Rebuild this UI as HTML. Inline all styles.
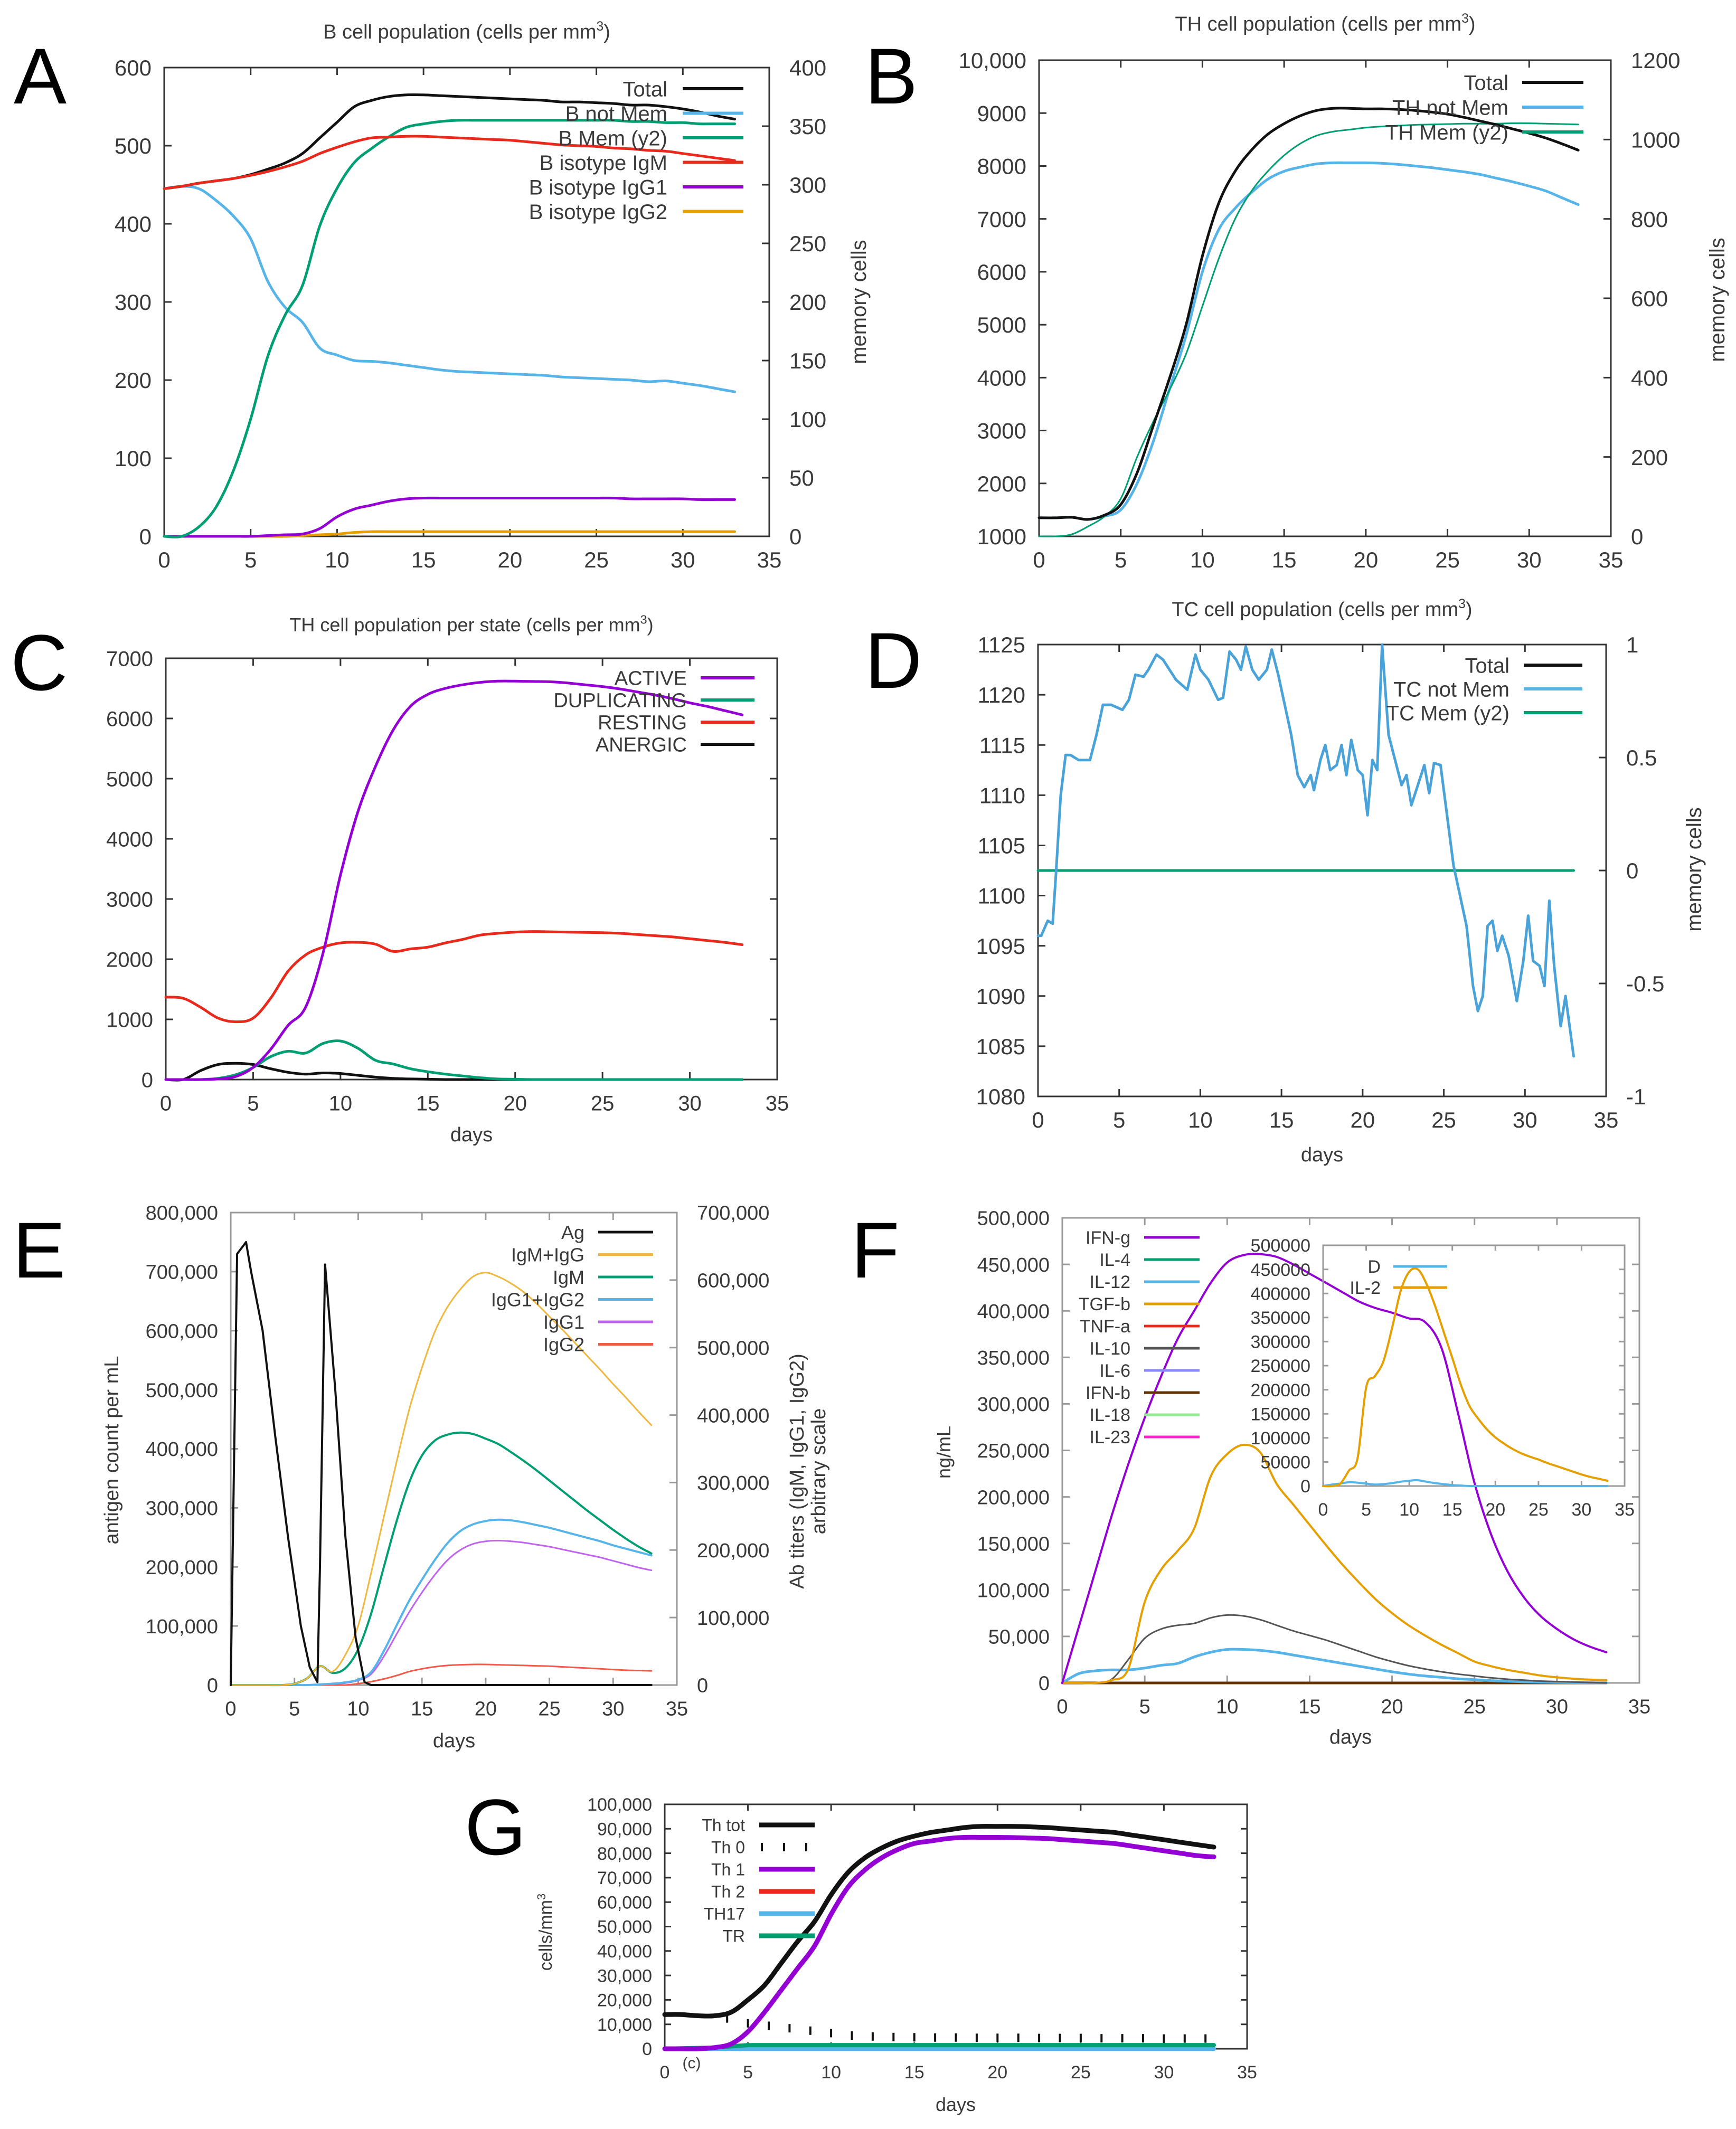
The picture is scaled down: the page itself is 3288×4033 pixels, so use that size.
<!DOCTYPE html>
<html><head><meta charset="utf-8"><title>Immune simulation panels</title>
<style>
html,body{margin:0;padding:0;background:#fff;}
svg{display:block;font-family:"Liberation Sans",Arial,sans-serif;}
</style></head>
<body>
<svg id="fig" xmlns="http://www.w3.org/2000/svg" width="3288" height="4033" viewBox="0 0 3288 4033">
<rect x="0" y="0" width="3288" height="4033" fill="#fff"/>
</svg>
<script>
// ---------- shared ----------
const DAYS = [0,1,2,3,4,5,6,7,8,9,10,11,12,13,14,15,16,17,18,19,20,21,22,23,24,25,26,27,28,29,30,31,32,33];
const X_TICKS = [0,5,10,15,20,25,30,35];
const ZERO_DAYS = [0,33];
const ZERO_VALS = [0,0];

// ---------- Panel A ----------
const A_total = [445,448,452,455,458,463,470,478,490,510,530,550,558,563,565,565,564,563,562,561,560,559,558,556,556,555,554,552,552,550,547,543,538,534];
const A_notMem = [445,448,445,430,410,381,326,293,274,241,232,225,224,222,219,216,213,211,210,209,208,207,206,204,203,202,201,200,198,199,196,193,189,185];
const A_mem = [0,0,8,25,56,100,154,189,214,265,297,319,331,341,349,352,354,355,355,355,355,355,355,355,355,355,355,354,354,353,353,352,352,352];
const A_igm = [445,448,452,455,458,462,467,473,480,490,498,505,510,511,512,512,511,510,509,508,507,505,503,501,500,499,497,496,494,493,490,487,484,481];
const A_igg1 = [0,0,0,0,0,0,1,2,3,10,25,35,40,45,48,49,49,49,49,49,49,49,49,49,49,49,49,48,48,48,48,47,47,47];
const A_igg2 = [0,0,0,0,0,0,0,0,1,2,3,5,6,6,6,6,6,6,6,6,6,6,6,6,6,6,6,6,6,6,6,6,6,6];
const A_yTicks = [0,100,200,300,400,500,600];
const A_y2Ticks = [0,50,100,150,200,250,300,350,400];

// ---------- Panel B ----------
const B_total = [1350,1350,1360,1320,1400,1600,2200,3100,4000,5000,6300,7300,7900,8300,8600,8800,8950,9050,9090,9090,9080,9080,9070,9050,9020,8980,8920,8850,8780,8700,8620,8530,8420,8300];
const B_notMem = [1350,1350,1360,1320,1380,1500,2000,2800,3800,4800,6000,6800,7200,7500,7750,7900,7980,8040,8060,8060,8060,8050,8030,8000,7970,7930,7890,7840,7770,7700,7620,7530,7400,7270];
const B_mem = [0,0,5,25,50,95,200,290,370,460,580,700,800,870,920,960,990,1010,1020,1025,1030,1033,1035,1037,1038,1039,1040,1040,1040,1041,1041,1040,1039,1038];
const B_yTicks = [1000,2000,3000,4000,5000,6000,7000,8000,9000,10000];
const B_yLabels = ["1000","2000","3000","4000","5000","6000","7000","8000","9000","10,000"];
const B_y2Ticks = [0,200,400,600,800,1000,1200];

// ---------- Panel C ----------
const C_active = [0,0,0,10,50,200,500,900,1200,2100,3400,4450,5200,5800,6200,6400,6500,6560,6600,6620,6620,6615,6610,6590,6560,6530,6490,6440,6390,6330,6260,6200,6130,6060];
const C_dup = [0,0,0,20,80,200,380,470,440,600,640,520,320,260,180,130,90,60,30,10,5,0,0,0,0,0,0,0,0,0,0,0,0,0];
const C_resting = [1370,1350,1200,1020,960,1020,1350,1800,2070,2200,2270,2280,2250,2130,2170,2200,2270,2330,2400,2430,2450,2460,2455,2450,2445,2440,2430,2410,2390,2370,2340,2310,2280,2240];
const C_anergic = [0,0,150,250,270,250,180,120,90,110,100,70,40,20,10,5,0,0,0,0,0,0,0,0,0,0,0,0,0,0,0,0,0,0];
const C_yTicks = [0,1000,2000,3000,4000,5000,6000,7000];

// ---------- Panel D ----------
const D_days = [0,0.2,0.6,0.9,1.1,1.4,1.7,2,2.5,3.2,3.6,4,4.5,5.2,5.6,6,6.5,6.8,7.3,7.7,8.5,9.2,9.7,10,10.5,11.1,11.4,11.8,12.2,12.5,12.8,13.2,13.6,14.1,14.4,14.8,15.2,15.6,16,16.4,16.8,17,17.4,17.7,18,18.4,18.7,19,19.3,19.7,20,20.3,20.6,20.9,21.2,21.6,22,22.4,22.7,23,23.5,23.8,24.1,24.4,24.8,25.2,25.6,26,26.4,26.8,27.1,27.4,27.7,28,28.3,28.6,29,29.5,29.9,30.2,30.5,30.9,31.2,31.5,31.8,32.2,32.5,33];
const D_notMem = [1096,1096,1097.5,1097.2,1102,1110,1114,1114,1113.5,1113.5,1116,1119,1119,1118.5,1119.5,1122,1121.8,1122.5,1124,1123.5,1121.5,1120.5,1124,1122.5,1121.5,1119.5,1119.7,1124.3,1123.5,1122.5,1124.8,1122.5,1121.5,1122.5,1124.5,1122,1119,1116,1112,1110.8,1112,1110.5,1113.5,1115,1112.5,1113,1115,1112,1115.5,1112.5,1112,1108,1113.5,1112.5,1125,1116,1113.5,1111,1112,1109,1111.5,1113,1110.2,1113.2,1113,1108,1103,1100,1097,1091,1088.5,1090,1097,1097.5,1094.5,1096,1094,1089.5,1093.5,1098,1093.5,1093,1091,1099.5,1093,1087,1090,1084];
const D_memDays = [0,33];
const D_mem = [0,0];
const D_yTicks = [1080,1085,1090,1095,1100,1105,1110,1115,1120,1125];
const D_y2Ticks = [-1,-0.5,0,0.5,1];

// ---------- Panel E ----------
const E_agDays = [0,0.5,1.2,1.6,2.5,3.5,4.5,5.5,6.2,6.8,7.0,7.4,8.2,9.0,9.8,10.5,11,33];
const E_ag = [0,730000,750000,700000,600000,420000,250000,100000,30000,5000,200000,712000,500000,250000,80000,5000,0,0];
const E_igmIgg = [0,0,0,0,0,2000,10000,28000,20000,45000,88000,165000,248000,330000,408000,470000,523000,560000,586000,605000,611000,605000,595000,582000,565000,546000,527000,507000,487000,467000,446000,426000,405000,385000];
const E_igm = [0,0,0,0,0,2000,10000,28000,18000,25000,53000,105000,174000,242000,300000,340000,362000,371000,374000,372000,365000,357000,345000,332000,318000,303000,288000,273000,258000,244000,230000,217000,205000,195000];
const E_igg12 = [0,0,0,0,0,0,0,1000,2000,4000,8000,19000,50000,88000,125000,156000,185000,210000,228000,238000,243000,245000,244000,241000,237000,233000,228000,223000,218000,213000,207000,202000,197000,192000];
const E_igg1 = [0,0,0,0,0,0,0,1000,2000,3000,7000,16000,42000,75000,108000,137000,163000,185000,200000,209000,213000,214000,213000,211000,208000,205000,201000,197000,193000,189000,184000,179000,174000,170000];
const E_igg2 = [0,0,0,0,0,0,0,0,0,0,2000,5000,9000,14000,20000,24000,27000,29000,30000,30500,30500,30000,29500,29000,28500,28000,27000,26000,25000,24000,23000,22000,21500,21000];
const E_yTicks = [0,100000,200000,300000,400000,500000,600000,700000,800000];
const E_y2Ticks = [0,100000,200000,300000,400000,500000,600000,700000];

// ---------- Panel F ----------
const F_ifng = [0,60000,120000,180000,235000,285000,330000,370000,400000,430000,452000,460000,461000,458000,450000,440000,430000,420000,410000,403000,398000,392000,388000,360000,290000,215000,160000,120000,92000,72000,58000,47000,39000,33000];
const F_tgfb = [0,0,0,3000,15000,87000,122000,142000,166000,222000,246000,256000,248000,214000,192000,170000,148000,127000,108000,90000,75000,62000,51000,41000,32000,23000,18000,14000,11000,8000,6000,4500,3500,3000];
const F_il10 = [0,0,0,4000,25000,48000,58000,62000,64000,70000,73000,72000,68000,62000,56000,51000,46000,40000,34000,28000,23000,18500,15000,12000,9500,7500,5500,4000,3000,2000,1500,1000,500,0];
const F_il12 = [0,10000,13000,14000,14000,16000,19000,21000,28000,33000,36000,36000,35000,33000,30000,27000,24000,21000,18000,15000,12000,9500,7500,6000,4500,3500,2500,1800,1200,800,500,300,200,100];
const F_yTicks = [0,50000,100000,150000,200000,250000,300000,350000,400000,450000,500000];
const F_il2 = [0,0,5000,32000,58000,205000,228000,259000,328000,405000,445000,450000,420000,374000,320000,266000,210000,166000,140000,118000,101000,88000,77000,68000,61000,55000,48000,42000,36000,30000,24000,19000,15000,11000];
const F_d = [0,3000,5000,8000,7000,5000,3000,4000,6000,9000,11000,12000,9000,6000,4000,2000,1000,0,0,0,0,0,0,0,0,0,0,0,0,0,0,0,0,0];
const F_insetYTicks = [0,50000,100000,150000,200000,250000,300000,350000,400000,450000,500000];

// ---------- Panel G ----------
const G_thTot = [14000,14000,13500,13500,15000,20000,26000,35000,44000,52000,63000,72000,78000,82000,85000,87000,88500,89500,90500,91000,91000,91000,90800,90500,90000,89500,89000,88500,87500,86500,85500,84500,83500,82500];
const G_th1 = [0,0,0,500,2000,7000,15000,24000,33000,42000,55000,66000,73000,78000,81500,84000,85000,86000,86500,86500,86500,86400,86200,86000,85500,85000,84500,84000,83000,82000,81000,80000,79000,78500];
const G_th0Days = [3.75,5,6.25,7.5,8.75,10,11.25,12.5,13.75,15,16.25,17.5,18.75,20,21.25,22.5,23.75,25,26.25,27.5,28.75,30,31.25,32.5];
const G_th0 = [12400,10400,9400,8400,7400,6400,5400,5000,4800,4700,4600,4600,4500,4500,4500,4400,4400,4400,4300,4300,4300,4200,4200,4200];
const G_trDays = [0,3,5,33];
const G_tr = [0,500,1500,1500];
const G_yTicks = [0,10000,20000,30000,40000,50000,60000,70000,80000,90000,100000];

// ---------- colours ----------
const BLACK='#111', SKY='#56b4e9', GREEN='#009e73', RED='#e8291c', PURPLE='#9400d3', ORANGE='#e69f00', TXT='#3a3a3a';

// ---------- helpers ----------
const NS='http://www.w3.org/2000/svg';
const root=document.getElementById('fig');
function mk(tag, parent){ const e=document.createElementNS(NS,tag); parent.appendChild(e); return e; }
function fmt(v){ return v.toLocaleString('en-US'); }
function text(parent, str, x, y, size, anchor, name, color){
  const t=mk('text',parent);
  t.setAttribute('x',x); t.setAttribute('y',y);
  t.setAttribute('font-size',size); t.setAttribute('text-anchor',anchor||'start');
  t.setAttribute('fill',color||TXT);
  
  
  t.textContent=str; return t;
}
function vtext(parent, str, x, y, size, name){
  const t=text(parent,str,x,y,size,'middle',name);
  t.setAttribute('transform','rotate(-90 '+x+' '+y+')');
  return t;
}
function makeScales(P){
  P.sx=d=>P.x0+(d-P.xmin)/(P.xmax-P.xmin)*(P.x1-P.x0);
  P.sy=v=>P.y1-(v-P.ymin)/(P.ymax-P.ymin)*(P.y1-P.y0);
  if(P.y2max!==undefined) P.sy2=v=>P.y1-(v-P.y2min)/(P.y2max-P.y2min)*(P.y1-P.y0);
  return P;
}
function axes(g, P, yTicks, yLabels, y2Ticks, y2Labels){
  const fs=P.fs, tl=P.tick||14;
  const fr=mk('rect',g);
  fr.setAttribute('x',P.x0); fr.setAttribute('y',P.y0);
  fr.setAttribute('width',P.x1-P.x0); fr.setAttribute('height',P.y1-P.y0);
  fr.setAttribute('fill','none'); fr.setAttribute('stroke',P.frame||'#333'); fr.setAttribute('stroke-width',3);
  
  
  const tk=mk('path',g); let d='';
  X_TICKS.forEach(v=>{ const x=P.sx(v); d+='M'+x+' '+P.y1+'v'+(-tl)+'M'+x+' '+P.y0+'v'+tl;
    text(g,String(v),x,P.y1+44+fs*0.36,fs,'middle','x-tick-label'); });
  yTicks.forEach((v,i)=>{ const y=P.sy(v); d+='M'+P.x0+' '+y+'h'+tl; if(!y2Ticks) d+='M'+P.x1+' '+y+'h'+(-tl);
    text(g,yLabels?yLabels[i]:fmt(v),P.x0-24,y+fs*0.36,fs,'end','y-tick-label'); });
  if(y2Ticks){ y2Ticks.forEach((v,i)=>{ const y=P.sy2(v); d+='M'+P.x1+' '+y+'h'+(-tl);
    text(g,y2Labels?y2Labels[i]:fmt(v),P.x1+38,y+fs*0.36,fs,'start','y2-tick-label'); }); }
  tk.setAttribute('d',d); tk.setAttribute('stroke',P.frame||'#333'); tk.setAttribute('stroke-width',3); tk.setAttribute('fill','none');
  
  
}
function series(g, xs, ys, sx, sy, color, w, name, smooth){
  const p=mk('path',g);
  const pts=xs.map((x,i)=>[sx(x),sy(ys[i])]);
  let d='M'+pts[0][0].toFixed(1)+' '+pts[0][1].toFixed(1);
  for(let i=0;i<pts.length-1;i++){
    const p1=pts[i], p2=pts[i+1];
    if(smooth){
      const p0=pts[Math.max(0,i-1)], p3=pts[Math.min(pts.length-1,i+2)];
      const c1=[p1[0]+(p2[0]-p0[0])/6, p1[1]+(p2[1]-p0[1])/6];
      const c2=[p2[0]-(p3[0]-p1[0])/6, p2[1]-(p3[1]-p1[1])/6];
      d+='C'+c1[0].toFixed(1)+' '+c1[1].toFixed(1)+' '+c2[0].toFixed(1)+' '+c2[1].toFixed(1)+' '+p2[0].toFixed(1)+' '+p2[1].toFixed(1);
    } else d+='L'+p2[0].toFixed(1)+' '+p2[1].toFixed(1);
  }
  p.setAttribute('d', d);
  p.setAttribute('fill','none'); p.setAttribute('stroke',color); p.setAttribute('stroke-width',w);
  p.setAttribute('stroke-linejoin','round'); p.setAttribute('stroke-linecap','round');
  
  
  return p;
}
function legend(g, items, tx, lx0, lx1, y0, step, fs, w){
  items.forEach((it,i)=>{
    const y=y0+i*step;
    text(g,it[0],tx,y+fs*0.36,fs,'end','legend-label');
    if(it[2]==='dots'){
      const p=mk('path',g); let d='';
      [0,0.4,0.8].forEach(f=>{ const x=lx0+f*(lx1-lx0)+5; d+='M'+x+' '+(y-8)+'v16'; });
      p.setAttribute('d',d); p.setAttribute('stroke',it[1]); p.setAttribute('stroke-width',4);
      
      
    } else {
      const l=mk('line',g);
      l.setAttribute('x1',lx0); l.setAttribute('x2',lx1); l.setAttribute('y1',y); l.setAttribute('y2',y);
      l.setAttribute('stroke',it[1]); l.setAttribute('stroke-width',w);
      
      
    }
  });
}
function panelGroup(name){ const g=mk('g',root);
  
  
  return g; }
function title(g, str, x, y, fs){
  const t=text(g,str,x,y,fs,'middle','chart-title');
  const s=mk('tspan',t); s.setAttribute('font-size',fs*0.65); s.setAttribute('dy',-fs*0.4); s.textContent='3';
  const s2=mk('tspan',t); s2.setAttribute('dy',fs*0.4); s2.textContent=')';
}
function letter(g, L, x, y){ text(g,L,x,y,150,'start','panel-letter-'+L.toLowerCase(),'#000'); }

// ---------- Panel A ----------
(function(){
  const g=panelGroup('panel-a');
  const P=makeScales({x0:311,x1:1457,y0:128,y1:1016,xmin:0,xmax:35,ymin:0,ymax:600,y2min:0,y2max:400,fs:42});
  letter(g,'A',26,196);
  title(g,'B cell population (cells per mm',884,73,38);
  axes(g,P,A_yTicks,null,A_y2Ticks,null);
  vtext(g,'memory cells',1640,572,40,'y2-axis-title');
  series(g,DAYS,A_igg2,P.sx,P.sy,ORANGE,5,'series-b-isotype-igg2',true);
  series(g,DAYS,A_igg1,P.sx,P.sy,PURPLE,5,'series-b-isotype-igg1',true);
  series(g,DAYS,A_notMem,P.sx,P.sy,SKY,5,'series-b-not-mem',true);
  series(g,DAYS,A_mem,P.sx,P.sy2,GREEN,5,'series-b-mem',true);
  series(g,DAYS,A_total,P.sx,P.sy,BLACK,5,'series-total',true);
  series(g,DAYS,A_igm,P.sx,P.sy,RED,5,'series-b-isotype-igm',true);
  legend(g,[['Total',BLACK],['B not Mem',SKY],['B Mem (y2)',GREEN],['B isotype IgM',RED],['B isotype IgG1',PURPLE],['B isotype IgG2',ORANGE]],1264,1293,1408,168,46.5,40,6);
})();

// ---------- Panel B ----------
(function(){
  const g=panelGroup('panel-b');
  const P=makeScales({x0:1968,x1:3051,y0:114,y1:1016,xmin:0,xmax:35,ymin:1000,ymax:10000,y2min:0,y2max:1200,fs:42});
  letter(g,'B',1638,196);
  title(g,'TH cell population (cells per mm',2510,58,38);
  axes(g,P,B_yTicks,B_yLabels,B_y2Ticks,B_y2Ticks.map(String));
  vtext(g,'memory cells',3266,568,40,'y2-axis-title');
  series(g,DAYS,B_notMem,P.sx,P.sy,SKY,5,'series-th-not-mem',true);
  series(g,DAYS,B_mem,P.sx,P.sy2,GREEN,3,'series-th-mem',true);
  series(g,DAYS,B_total,P.sx,P.sy,BLACK,5,'series-total',true);
  legend(g,[['Total',BLACK],['TH not Mem',SKY],['TH Mem (y2)',GREEN]],2857,2883,2999,156,47,40,6);
})();

// ---------- Panel C ----------
(function(){
  const g=panelGroup('panel-c');
  const P=makeScales({x0:314,x1:1472,y0:1247,y1:2045,xmin:0,xmax:35,ymin:0,ymax:7000,fs:40});
  letter(g,'C',20,1307);
  title(g,'TH cell population per state (cells per mm',893,1196,36);
  axes(g,P,C_yTicks,C_yTicks.map(String),null,null);
  text(g,'days',893,2162,38,'middle','x-axis-title');
  series(g,DAYS,C_anergic,P.sx,P.sy,BLACK,5,'series-anergic',true);
  series(g,DAYS,C_resting,P.sx,P.sy,RED,5,'series-resting',true);
  series(g,DAYS,C_dup,P.sx,P.sy,GREEN,5,'series-duplicating',true);
  series(g,DAYS,C_active,P.sx,P.sy,PURPLE,5,'series-active',true);
  legend(g,[['ACTIVE',PURPLE],['DUPLICATING',GREEN],['RESTING',RED],['ANERGIC',BLACK]],1301,1327,1429,1284,42,38,6);
})();

// ---------- Panel D ----------
(function(){
  const g=panelGroup('panel-d');
  const P=makeScales({x0:1966,x1:3042,y0:1221,y1:2077,xmin:0,xmax:35,ymin:1080,ymax:1125,y2min:-1,y2max:1,fs:42});
  letter(g,'D',1638,1303);
  title(g,'TC cell population (cells per mm',2504,1167,38);
  axes(g,P,D_yTicks,D_yTicks.map(String),D_y2Ticks,['-1','-0.5','0','0.5','1']);
  vtext(g,'memory cells',3222,1647,40,'y2-axis-title');
  text(g,'days',2504,2200,38,'middle','x-axis-title');
  series(g,D_memDays,D_mem,P.sx,P.sy2,GREEN,5,'series-tc-mem');
  series(g,D_days,D_notMem,P.sx,P.sy,'#4aa3d8',5,'series-tc-not-mem');
  legend(g,[['Total',BLACK],['TC not Mem',SKY],['TC Mem (y2)',GREEN]],2859,2886,2997,1260,45,40,6);
})();

// ---------- Panel E ----------
(function(){
  const g=panelGroup('panel-e');
  const P=makeScales({x0:437,x1:1282,y0:2297,y1:3192,xmin:0,xmax:35,ymin:0,ymax:800000,y2min:0,y2max:700000,fs:38,frame:'#9a9a9a'});
  letter(g,'E',24,2420);
  axes(g,P,E_yTicks,null,E_y2Ticks,null);
  vtext(g,'antigen count per mL',224,2747,38,'y-axis-title');
  vtext(g,'Ab titers (IgM, IgG1, IgG2)',1522,2787,38,'y2-axis-title');
  vtext(g,'arbitrary scale',1563,2787,38,'y2-axis-title-line2');
  text(g,'days',860,3310,38,'middle','x-axis-title');
  series(g,DAYS,E_igg2,P.sx,P.sy2,'#f05a4a',3,'series-igg2',true);
  series(g,DAYS,E_igg1,P.sx,P.sy2,'#c064f0',3,'series-igg1',true);
  series(g,DAYS,E_igg12,P.sx,P.sy2,SKY,4,'series-igg1-igg2',true);
  series(g,DAYS,E_igm,P.sx,P.sy2,GREEN,4,'series-igm',true);
  series(g,DAYS,E_igmIgg,P.sx,P.sy2,'#f0b840',3,'series-igm-igg',true);
  series(g,E_agDays,E_ag,P.sx,P.sy,BLACK,4,'series-ag');
  legend(g,[['Ag',BLACK],['IgM+IgG','#f0b840'],['IgM',GREEN],['IgG1+IgG2',SKY],['IgG1','#c064f0'],['IgG2','#f05a4a']],1107,1133,1237,2334,42.5,36,5);
})();

// ---------- Panel F ----------
(function(){
  const g=panelGroup('panel-f');
  const P=makeScales({x0:2012,x1:3105,y0:2307,y1:3188,xmin:0,xmax:35,ymin:0,ymax:500000,fs:38,frame:'#9a9a9a'});
  letter(g,'F',1612,2420);
  axes(g,P,F_yTicks,null,null,null);
  vtext(g,'ng/mL',1800,2751,36,'y-axis-title');
  text(g,'days',2558,3303,38,'middle','x-axis-title');
  series(g,ZERO_DAYS,ZERO_VALS,P.sx,P.sy,'#663300',5,'series-ifn-b');
  series(g,DAYS,F_il12,P.sx,P.sy,SKY,5,'series-il-12',true);
  series(g,DAYS,F_il10,P.sx,P.sy,'#555',3,'series-il-10',true);
  series(g,DAYS,F_tgfb,P.sx,P.sy,ORANGE,4,'series-tgf-b',true);
  series(g,DAYS,F_ifng,P.sx,P.sy,PURPLE,4,'series-ifn-g',true);
  legend(g,[['IFN-g',PURPLE],['IL-4',GREEN],['IL-12',SKY],['TGF-b',ORANGE],['TNF-a',RED],['IL-10','#555'],['IL-6','#8888ff'],['IFN-b','#663300'],['IL-18','#90ee90'],['IL-23','#ff22cc']],2141,2167,2272,2344,42,34,5);
  // inset
  const Q=makeScales({x0:2506,x1:3077,y0:2359,y1:2815,xmin:0,xmax:35,ymin:0,ymax:500000,fs:34,frame:'#9a9a9a',tick:10});
  const gi=panelGroup('panel-f-inset'); g.appendChild(gi);
  axes(gi,Q,F_insetYTicks,F_insetYTicks.map(String),null,null);
  series(gi,DAYS,F_d,Q.sx,Q.sy,SKY,4,'series-d',true);
  series(gi,DAYS,F_il2,Q.sx,Q.sy,ORANGE,4,'series-il-2',true);
  legend(gi,[['D',SKY],['IL-2',ORANGE]],2615,2639,2741,2399,40,34,5);
})();

// ---------- Panel G ----------
(function(){
  const g=panelGroup('panel-g');
  const P=makeScales({x0:1259,x1:2362,y0:3418,y1:3881,xmin:0,xmax:35,ymin:0,ymax:100000,fs:34,tick:12});
  letter(g,'G',880,3513);
  axes(g,P,G_yTicks,null,null,null);
  const ct=vtext(g,'cells/mm',1045,3660,34,'y-axis-title');
  const s=mk('tspan',ct); s.setAttribute('font-size',22); s.setAttribute('dy',-12); s.textContent='3';
  text(g,'days',1810,3999,36,'middle','x-axis-title');
  text(g,'(c)',1310,3918,30,'middle','sub-label-c');
  series(g,ZERO_DAYS,ZERO_VALS,P.sx,P.sy,RED,8,'series-th2');
  series(g,ZERO_DAYS,ZERO_VALS,P.sx,P.sy,SKY,8,'series-th17');
  series(g,G_trDays,G_tr,P.sx,P.sy,GREEN,8,'series-tr');
  const dots=mk('path',g);
  dots.setAttribute('d',G_th0Days.map((d,i)=>'M'+P.sx(d).toFixed(1)+' '+(P.sy(G_th0[i])-8).toFixed(1)+'v16').join(''));
  dots.setAttribute('stroke','#111'); dots.setAttribute('stroke-width',4);
  
  
  series(g,DAYS,G_th1,P.sx,P.sy,PURPLE,9,'series-th1',true);
  series(g,DAYS,G_thTot,P.sx,P.sy,BLACK,9,'series-th-tot',true);
  legend(g,[['Th tot',BLACK],['Th 0','#111','dots'],['Th 1',PURPLE],['Th 2',RED],['TH17',SKY],['TR',GREEN]],1411,1438,1543,3457,42,32,9);
})();
</script>
</body></html>
